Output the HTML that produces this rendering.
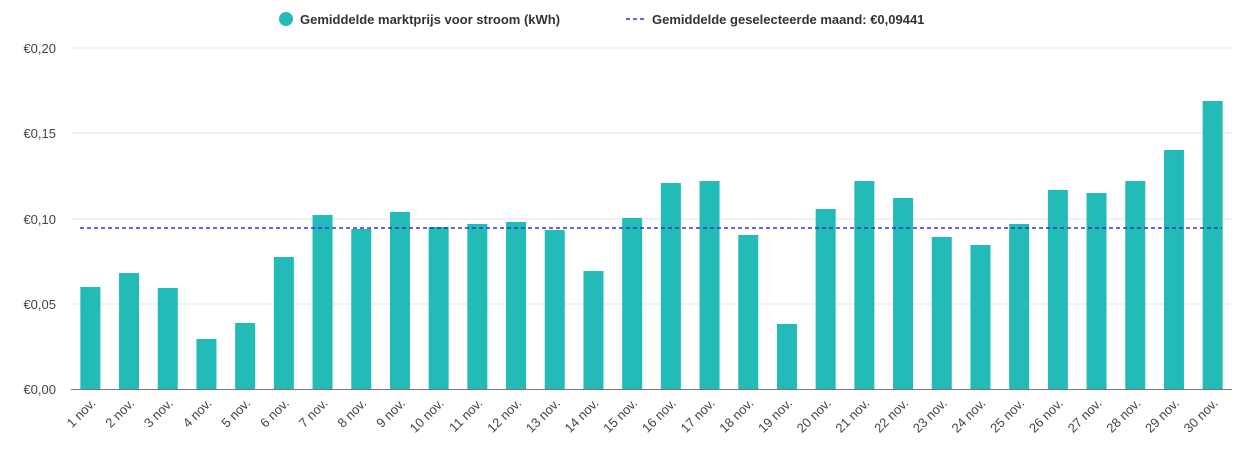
<!DOCTYPE html>
<html><head><meta charset="utf-8"><style>
body{margin:0;background:#fff;width:1240px;height:458px;overflow:hidden}
svg{font-family:"Liberation Sans",Arial,sans-serif}
</style></head><body>
<svg width="1240" height="458" xmlns="http://www.w3.org/2000/svg">
<circle cx="286" cy="19" r="7" fill="#22bbb8"/>
<text x="300" y="24" font-size="13" font-weight="bold" fill="#333">Gemiddelde marktprijs voor stroom (kWh)</text>
<line x1="626" y1="19" x2="646" y2="19" stroke="#3333cc" stroke-width="1.5" stroke-dasharray="4,3"/>
<text x="652" y="24" font-size="13" font-weight="bold" fill="#333">Gemiddelde geselecteerde maand: €0,09441</text>
<g stroke="#e6e6e6" stroke-width="1">
<line x1="71" y1="48" x2="1232" y2="48"/><line x1="71" y1="133" x2="1232" y2="133"/>
<line x1="71" y1="219" x2="1232" y2="219"/><line x1="71" y1="304" x2="1232" y2="304"/>
</g>
<g font-size="13" fill="#444" text-anchor="end">
<text x="56" y="53">€0,20</text><text x="56" y="138">€0,15</text><text x="56" y="224">€0,10</text><text x="56" y="309">€0,05</text><text x="56" y="394">€0,00</text>
</g>
<g id="bars" fill="#22bbb8"></g>
<line x1="71" y1="389.5" x2="1232" y2="389.5" stroke="#777" stroke-width="1"/>
<line x1="80" y1="228" x2="1222" y2="228" stroke="#3333cc" stroke-width="1.5" stroke-dasharray="4,3"/>
<g id="labels" font-size="13" fill="#444" text-anchor="end"></g>
</svg>
<script>
var tops=[287,273,288,339,323,257,215,229,212,227,224,222,230,271,218,183,181,235,324,209,181,198,237,245,224,190,193,181,150,101];
var b=document.getElementById('bars'),l=document.getElementById('labels'),ns='http://www.w3.org/2000/svg';
tops.forEach(function(t,i){var cx=71+38.7*(i+0.5);
var r=document.createElementNS(ns,'rect');r.setAttribute('x',cx-10);r.setAttribute('y',t);r.setAttribute('width',20);r.setAttribute('height',389-t);b.appendChild(r);
var tx=document.createElementNS(ns,'text');tx.setAttribute('transform','translate('+(cx+6)+',404) rotate(-45)');tx.textContent=(i+1)+' nov.';l.appendChild(tx);});
</script>
</body></html>
